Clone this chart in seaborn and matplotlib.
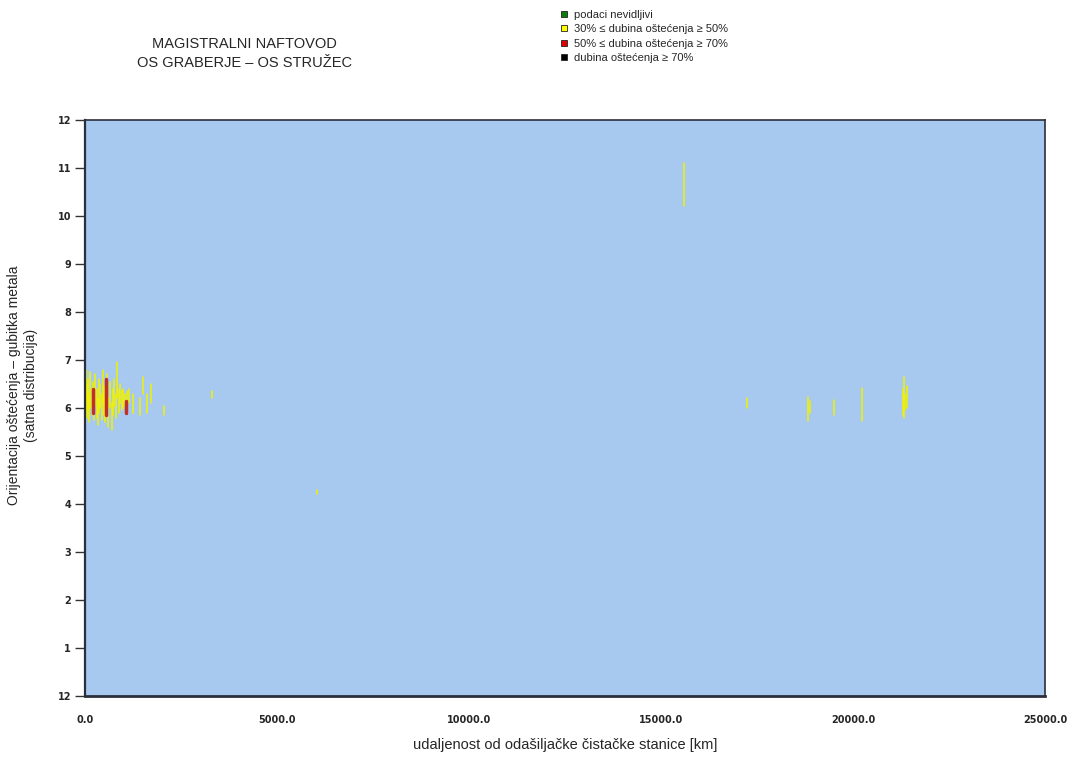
import pandas as pd
import seaborn as sns
from matplotlib import pyplot as plt
from matplotlib.lines import Line2D

# Defect positions along pipeline and clock-orientation span (start, end)
yellow_pos = [20, 50, 80, 110, 140, 170, 200, 240, 270, 300, 330, 360, 400, 430,
              460, 500, 530, 580, 610, 650, 690, 720, 760, 800, 840, 880, 920,
              960, 1000, 1050, 1100, 1150, 1250, 1420, 1520, 1620, 1720, 2050,
              3300, 6050, 15600, 17240, 18830, 18880, 19500, 20230,
              21300, 21330, 21360, 21390]
yellow_lo = [5.9, 5.8, 5.95, 5.7, 6.0, 5.85, 5.9, 5.75, 6.05, 5.8, 5.65, 5.9, 6.0, 5.75,
             6.1, 5.85, 5.7, 5.95, 5.6, 6.0, 5.55, 5.85, 6.05, 5.8, 6.2, 5.9, 6.1,
             5.95, 6.0, 6.05, 5.95, 6.1, 5.9, 5.85, 6.3, 5.9, 6.1, 5.85,
             6.2, 4.2, 10.2, 6.0, 5.72, 5.9, 5.85, 5.72,
             5.85, 5.8, 5.95, 6.0]
yellow_hi = [6.8, 6.5, 6.6, 6.3, 6.75, 6.4, 6.55, 6.3, 6.7, 6.4, 6.2, 6.6, 6.5, 6.3,
             6.8, 6.45, 6.2, 6.7, 6.2, 6.55, 6.1, 6.4, 6.6, 6.3, 6.95, 6.4, 6.5,
             6.35, 6.4, 6.3, 6.35, 6.4, 6.3, 6.2, 6.65, 6.3, 6.5, 6.05,
             6.35, 4.3, 11.1, 6.2, 6.22, 6.15, 6.17, 6.42,
             6.4, 6.65, 6.3, 6.45]

red_pos = [210, 550, 1070]
red_lo = [5.9, 5.85, 5.9]
red_hi = [6.4, 6.6, 6.15]

legend_labels = ["podaci nevidljivi",
                 "30% \u2264 dubina o\u0161te\u0107enja \u2265 50%",
                 "50% \u2264 dubina o\u0161te\u0107enja \u2265 70%",
                 "dubina o\u0161te\u0107enja \u2265 70%"]
legend_colors = ["#0a7d0a", "#ffff00", "#e00000", "#000000"]

x_ticks = [0, 5000, 10000, 15000, 20000, 25000]
y_ticks = list(range(0, 13))
y_ticklabels = ["12"] + [str(i) for i in range(1, 13)]


def to_long(pos, lo, hi):
    rows = []
    for i, (p, a, b) in enumerate(zip(pos, lo, hi)):
        rows.append({"id": i, "x": p, "y": a})
        rows.append({"id": i, "x": p, "y": b})
    return pd.DataFrame(rows)


df_y = to_long(yellow_pos, yellow_lo, yellow_hi)
df_r = to_long(red_pos, red_lo, red_hi)

sns.set_style("ticks")
plt.rcParams['font.family'] = ['Liberation Sans', 'DejaVu Sans']

fig = plt.figure(figsize=(10.68, 7.58), dpi=100)
ax = fig.add_axes([0.0796, 0.0818, 0.899, 0.760])
ax.set_facecolor("#a7c8ef")

sns.lineplot(data=df_y, x="x", y="y", units="id", estimator=None, sort=False,
             color="#f2f200", linewidth=1.1, ax=ax)
sns.lineplot(data=df_r, x="x", y="y", units="id", estimator=None, sort=False,
             color="#c0302a", linewidth=2.5, ax=ax)

ax.set_xlim(0, 25000)
ax.set_ylim(0, 12)
ax.set_xticks(x_ticks)
ax.set_xticklabels([f"{v:.1f}" for v in x_ticks], fontsize=7, fontweight="bold",
                   family="DejaVu Sans")
ax.set_yticks(y_ticks)
ax.set_yticklabels(y_ticklabels, fontsize=7, fontweight="bold", family="DejaVu Sans")
ax.tick_params(axis="x", length=0, pad=14)
ax.tick_params(axis="y", length=7, width=1, color="#333333", pad=3)
for s in ax.spines.values():
    s.set_color("#2b2f3a")
    s.set_linewidth(1.2)
ax.spines["bottom"].set_linewidth(2)
ax.spines["left"].set_linewidth(1.6)
ax.set_xlabel("")
ax.set_ylabel("")

fig.text(0.529, 0.017, "udaljenost od odašiljačke čistačke stanice [km]",
         ha="center", va="center", fontsize=10.5)
fig.text(0.021, 0.492, "Orijentacija oštećenja – gubitka metala\n(satna distribucija)",
         ha="center", va="center", rotation=90, fontsize=10, linespacing=1.35)

fig.text(0.229, 0.93, "MAGISTRALNI NAFTOVOD\nOS GRABERJE – OS STRUŽEC",
         ha="center", va="center", fontsize=10.5, linespacing=1.45)

handles = [Line2D([], [], linestyle="none", marker="s", markersize=5,
                  markerfacecolor=c, markeredgecolor="#222222", markeredgewidth=0.6)
           for c in legend_colors]
fig.legend(handles, legend_labels, loc="upper left", bbox_to_anchor=(0.519, 0.993),
           frameon=False, fontsize=8, handletextpad=0.4, labelspacing=0.4,
           handlelength=1.0, borderaxespad=0)

fig.savefig("out.png", dpi=100)
